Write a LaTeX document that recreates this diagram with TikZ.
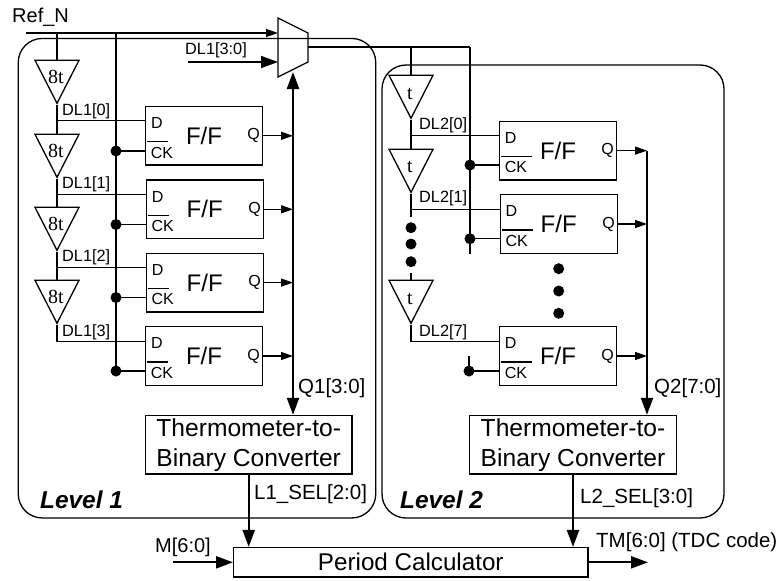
\documentclass[tikz,border=0pt]{standalone}
\usepackage{fontspec}
\setmainfont{Liberation Sans}
\newfontfamily\bufrm{Liberation Serif}
\usetikzlibrary{arrows.meta,shapes.geometric}
\tikzset{
  wire/.style={line width=1.3pt},
  sig/.style={line width=1.3pt,-{Triangle[length=12pt,width=8pt]}},
  bus/.style={line width=2.3pt,-{Triangle[length=17pt,width=12pt]}},
  dbus/.style={line width=2.3pt,{Triangle[length=17pt,width=12pt]}-{Triangle[length=17pt,width=12pt]}},
  lvlbox/.style={draw,line width=1.3pt,rounded corners=24pt,inner sep=0pt},
  ffbox/.style={draw,line width=1.3pt,minimum width=117pt,minimum height=58.6pt,inner sep=0pt,font=\fontsize{24}{28}\selectfont},
  convbox/.style={draw,line width=1.3pt,minimum width=206.5pt,minimum height=58.5pt,inner sep=0pt,align=center,font=\fontsize{24.6}{30}\selectfont},
  bufbox/.style={draw,line width=1.3pt,isosceles triangle,isosceles triangle stretches,shape border rotate=-90,minimum width=44pt,minimum height=43pt,inner sep=0pt,anchor=apex},
  buflab/.style={inner sep=0pt,font=\fontsize{20}{22}\selectfont\bufrm},
  dotn/.style={circle,fill=black,minimum size=11pt,inner sep=0pt},
  pinlab/.style={inner sep=0pt,font=\fontsize{16}{18}\selectfont},
  siglab/.style={inner sep=0pt,font=\fontsize{16.3}{18}\selectfont},
  buslab/.style={inner sep=0pt,font=\fontsize{20.5}{24}\selectfont},
  lvllab/.style={inner sep=0pt,font=\fontsize{24.4}{28}\selectfont\bfseries\itshape}
}
\begin{document}
\begin{tikzpicture}[x=1pt,y=-1pt]
  \useasboundingbox (0,0) rectangle (782,581);
  % level frames
  \node[lvlbox,minimum width=357.5pt,minimum height=479.5pt] (lvla) at (197,278.2) {};
  \node[lvlbox,minimum width=342pt,minimum height=453pt] (lvlb) at (553,291.5) {};
  \node[lvllab,anchor=west] (lvlatxt) at (40,500) {Level 1};
  \node[lvllab,anchor=west] (lvlbtxt) at (400,500) {Level 2};
  % mux
  \draw[wire,line join=miter] (278,18) -- (308,33) -- (308,62) -- (278,77) -- cycle;
  \coordinate (muxa) at (278,33);
  \coordinate (muxb) at (278,62);
  \coordinate (muxo) at (308,47);
  \coordinate (muxs) at (293,72);
  \coordinate (refin) at (26,33);
  \coordinate (dlin) at (188,62);
  \coordinate (refa) at (57,33);
  \coordinate (refb) at (116,33);
  \coordinate (clkatop) at (470,47);
  \coordinate (chnb) at (411,47);
  \node[buslab,font=\fontsize{20}{24}\selectfont,anchor=west] (refn) at (12,17) {Ref\_N};
  \node[siglab,anchor=west] (dlalab) at (185,50) {DL1[3:0]};
  \draw[sig] (refin) -- (muxa);
  \draw[line width=1.8pt,-{Triangle[length=17pt,width=12pt]}] (dlin) -- (muxb);
  \draw[wire] (muxo) -- (clkatop);
  % level 1 chain
  \node[bufbox] (bufa0) at (57,105) {};
  \node[bufbox] (bufa1) at (57,179) {};
  \node[bufbox] (bufa2) at (57,252) {};
  \node[bufbox] (bufa3) at (57,325) {};
  \node[buflab] (bufa0t) at (56,77) {8t};
  \node[buflab] (bufa1t) at (56,151) {8t};
  \node[buflab] (bufa2t) at (56,224) {8t};
  \node[buflab] (bufa3t) at (56,297) {8t};
  \draw[wire] (refa) -- (bufa0.lower side);
  \draw[wire] (bufa0.apex) -- (bufa1.lower side);
  \draw[wire] (bufa1.apex) -- (bufa2.lower side);
  \draw[wire] (bufa2.apex) -- (bufa3.lower side);
  \node[siglab,anchor=west] (dla0) at (62,111) {DL1[0]};
  \node[siglab,anchor=west] (dla1) at (62,184) {DL1[1]};
  \node[siglab,anchor=west] (dla2) at (62,257) {DL1[2]};
  \node[siglab,anchor=west] (dla3) at (62,332) {DL1[3]};
  % level 1 flip-flops
  \node[ffbox] (ffa0) at (204,135.8) {F/F};
  \node[ffbox] (ffa1) at (204.7,209.3) {F/F};
  \node[ffbox] (ffa2) at (204.7,282.6) {F/F};
  \node[ffbox] (ffa3) at (204,356) {F/F};
  \node[pinlab] (da0) at (157,123.2) {D};
  \node[pinlab] (da1) at (157.7,196.7) {D};
  \node[pinlab] (da2) at (157.7,270) {D};
  \node[pinlab] (da3) at (157,343.4) {D};
  \node[pinlab] (cka0) at (162,152.5) {CK};
  \node[pinlab] (cka1) at (162.7,226) {CK};
  \node[pinlab] (cka2) at (162.7,299.3) {CK};
  \node[pinlab] (cka3) at (162,372.7) {CK};
  \node[pinlab,anchor=east] (qa0) at (260,135.8) {Q};
  \node[pinlab,anchor=east] (qa1) at (261,209.3) {Q};
  \node[pinlab,anchor=east] (qa2) at (261,282.6) {Q};
  \node[pinlab,anchor=east] (qa3) at (260,356) {Q};
  \draw[wire] (147,141.7) -- ++(21,0);
  \draw[wire] (147.7,215.2) -- ++(21,0);
  \draw[wire] (147.7,288.5) -- ++(21,0);
  \draw[wire] (147,361.9) -- ++(21,0);
  \draw[wire] (bufa0.apex |- 0,120.7) -- (ffa0.west |- 0,120.7);
  \draw[wire] (bufa1.apex |- 0,194.2) -- (ffa1.west |- 0,194.2);
  \draw[wire] (bufa2.apex |- 0,267.5) -- (ffa2.west |- 0,267.5);
  \draw[wire] (bufa3.apex) -- (57,341.7) -- (ffa3.west |- 0,341.7);
  % level 1 clock
  \node[dotn] (dota0) at (116,151) {};
  \node[dotn] (dota1) at (116,224.5) {};
  \node[dotn] (dota2) at (116,297.5) {};
  \node[dotn] (dota3) at (116,371) {};
  \draw[wire] (refb) -- (dota3.center);
  \draw[wire] (dota0.center) -- (ffa0.west |- dota0);
  \draw[wire] (dota1.center) -- (ffa1.west |- dota1);
  \draw[wire] (dota2.center) -- (ffa2.west |- dota2);
  \draw[wire] (dota3.center) -- (ffa3.west |- dota3);
  % level 1 output
  \node[convbox] (conva) at (248.7,444.7) {Thermometer-to-\\Binary Converter};
  \draw[dbus] (muxs) -- (muxs |- conva.north);
  \draw[sig] (ffa0.east) -- (ffa0.east -| muxs);
  \draw[sig] (ffa1.east) -- (ffa1.east -| muxs);
  \draw[sig] (ffa2.east) -- (ffa2.east -| muxs);
  \draw[sig] (ffa3.east) -- (ffa3.east -| muxs);
  \node[buslab,anchor=west] (qalab) at (298,388) {Q1[3:0]};
  \node[buslab,anchor=west] (selalab) at (254,494) {L1\_SEL[2:0]};
  % level 2 chain
  \node[bufbox] (bufb0) at (411,120) {};
  \node[bufbox] (bufb1) at (411,194) {};
  \node[bufbox] (bufb2) at (411,325) {};
  \node[buflab] (bufb0t) at (410,94) {t};
  \node[buflab] (bufb1t) at (410,167) {t};
  \node[buflab] (bufb2t) at (410,299) {t};
  \draw[wire] (chnb) -- (bufb0.lower side);
  \draw[wire] (bufb0.apex) -- (bufb1.lower side);
  \coordinate (chnc) at (411,217);
  \draw[wire] (bufb1.apex) -- (chnc);
  \node[dotn] (dotc0) at (411,227.7) {};
  \node[dotn] (dotc1) at (411,244) {};
  \node[dotn] (dotc2) at (411,261.7) {};
  \coordinate (chnd) at (411,273);
  \draw[wire] (chnd) -- (bufb2.lower side);
  \node[siglab,anchor=west] (dlb0) at (419,125) {DL2[0]};
  \node[siglab,anchor=west] (dlb1) at (419,198.5) {DL2[1]};
  \node[siglab,anchor=west] (dlb7) at (419,332) {DL2[7]};
  % level 2 flip-flops
  \node[ffbox] (ffb0) at (558,150.6) {F/F};
  \node[ffbox] (ffb1) at (558.7,224) {F/F};
  \node[ffbox] (ffb2) at (558,356) {F/F};
  \node[pinlab] (db0) at (510.7,138) {D};
  \node[pinlab] (db1) at (511.4,211.4) {D};
  \node[pinlab] (db2) at (510.7,343.4) {D};
  \node[pinlab] (ckb0) at (516,167.3) {CK};
  \node[pinlab] (ckb1) at (516.7,240.7) {CK};
  \node[pinlab] (ckb2) at (516,372.7) {CK};
  \node[pinlab,anchor=east] (qb0) at (614,150.6) {Q};
  \node[pinlab,anchor=east] (qb1) at (615,224) {Q};
  \node[pinlab,anchor=east] (qb2) at (614,356) {Q};
  \draw[wire] (501,156.5) -- ++(31,0);
  \draw[wire] (502,229.9) -- ++(31,0);
  \draw[wire] (501,361.9) -- ++(31,0);
  \draw[wire] (bufb0.apex |- 0,135.7) -- (ffb0.west |- 0,135.7);
  \draw[wire] (bufb1.apex |- 0,209.3) -- (ffb1.west |- 0,209.3);
  \draw[wire] (bufb2.apex) -- (411,341.7) -- (ffb2.west |- 0,341.7);
  \node[dotn] (dotd0) at (558.7,268.7) {};
  \node[dotn] (dotd1) at (558.7,291) {};
  \node[dotn] (dotd2) at (558.7,313.3) {};
  % level 2 clock
  \node[dotn] (dotb0) at (470,165) {};
  \node[dotn] (dotb1) at (470,238.7) {};
  \node[dotn] (dotb2) at (469,371) {};
  \coordinate (clkbend) at (470,253.5);
  \coordinate (clkcend) at (469,356);
  \draw[wire] (clkatop) -- (clkbend);
  \draw[wire] (clkcend) -- (dotb2.center);
  \draw[wire] (dotb0.center) -- (ffb0.west |- dotb0);
  \draw[wire] (dotb1.center) -- (ffb1.west |- dotb1);
  \draw[wire] (dotb2.center) -- (ffb2.west |- dotb2);
  % level 2 output
  \node[convbox] (convb) at (573,444.7) {Thermometer-to-\\Binary Converter};
  \coordinate (busb) at (647,150.6);
  \draw[bus] (busb) -- (busb |- convb.north);
  \draw[sig] (ffb0.east) -- (busb);
  \draw[sig] (ffb1.east) -- (ffb1.east -| busb);
  \draw[sig] (ffb2.east) -- (ffb2.east -| busb);
  \node[buslab,anchor=west] (qblab) at (654,388) {Q2[7:0]};
  \node[buslab,anchor=west] (selblab) at (580,498) {L2\_SEL[3:0]};
  % period calculator
  \node[draw,line width=1.3pt,minimum width=354.3pt,minimum height=29.5pt,inner sep=0pt,font=\fontsize{24.2}{28}\selectfont] (calc) at (410.8,562.3) {Period Calculator};
  \draw[bus] (conva.south) -- (conva.south |- calc.north);
  \draw[bus] (convb.south) -- (convb.south |- calc.north);
  \coordinate (min) at (173,562.3);
  \coordinate (tmout) at (648,562.3);
  \draw[bus] (min) -- (calc.west);
  \draw[bus] (calc.east) -- (tmout);
  \node[buslab,font=\fontsize{20}{24}\selectfont,anchor=west] (mlab) at (155,547) {M[6:0]};
  \node[buslab,anchor=west] (tmlab) at (596,541.7) {TM[6:0] (TDC code)};
\end{tikzpicture}
\end{document}
